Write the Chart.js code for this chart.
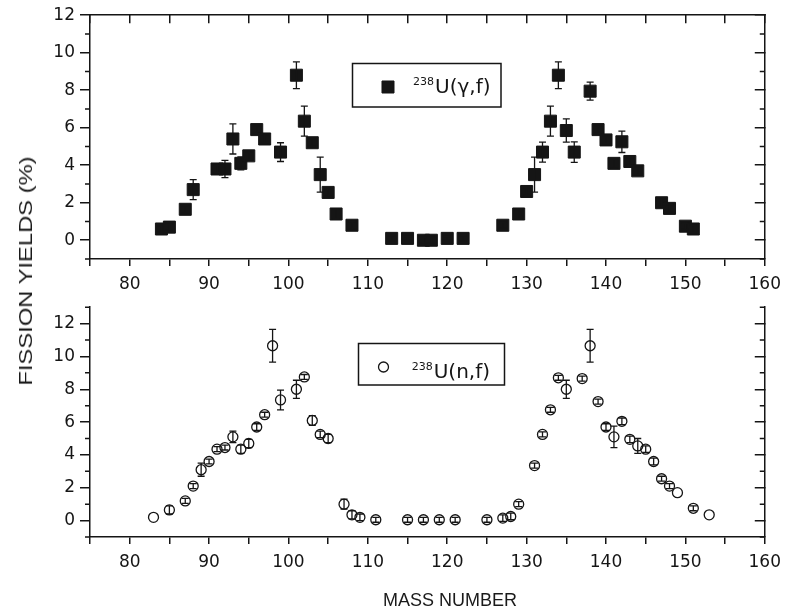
<!DOCTYPE html>
<html><head><meta charset="utf-8">
<script src="https://cdn.jsdelivr.net/npm/chart.js@4.4.1/dist/chart.umd.min.js"></script>
<style>
html,body{margin:0;padding:0;background:#fff;width:789px;height:612px;overflow:hidden;position:relative}
canvas{position:absolute;left:0}
#c1{top:0}
#c2{top:292px}
.t{position:absolute;font-family:"Liberation Sans",Arial,sans-serif;font-size:18px;color:#1a1a1a;white-space:nowrap}
#ytitle{left:26px;top:271px;font-size:19px;transform:translate(-50%,-50%) rotate(-90deg) scaleX(1.25)}
#xtitle{left:450px;top:600px;transform:translate(-50%,-50%)}
</style></head><body>
<canvas id="c1" width="789" height="292"></canvas>
<canvas id="c2" width="789" height="320"></canvas>
<div class="t" id="ytitle">FISSION YIELDS (%)</div>
<div class="t" id="xtitle">MASS NUMBER</div>
<script>
// ---- data ----
const gammaMass  = [84,85,87,88,91,92,93,94,95,96,97,99,101,102,103,104,105,106,108,113,115,117,118,120,122,127,129,130,131,132,133,134,135,136,138,139,140,141,142,143,144,147,148,150,151];
const gammaYield = [0.6,0.7,1.65,2.7,3.8,3.8,5.4,4.1,4.5,5.9,5.4,4.7,8.8,6.35,5.2,3.5,2.55,1.4,0.8,0.1,0.1,0.0,0.0,0.1,0.1,0.8,1.4,2.6,3.5,4.7,6.35,8.8,5.85,4.7,7.95,5.9,5.35,4.1,5.25,4.2,3.7,2.0,1.7,0.75,0.6];
const gammaErr   = [0.15,0.15,0.2,0.53,0.2,0.46,0.8,0.35,0.2,0.2,0.2,0.5,0.71,0.8,0.2,0.93,0.2,0.25,0.2,0.15,0.1,0.15,0.15,0.1,0.15,0.15,0.25,0.2,0.93,0.53,0.8,0.71,0.62,0.55,0.48,0.2,0.2,0.25,0.57,0.2,0.2,0.2,0.2,0.15,0.2];

const neutronMass  = [83,85,87,88,89,90,91,92,93,94,95,96,97,98,99,101,102,103,104,105,107,108,109,111,115,117,119,121,125,127,128,129,131,132,133,134,135,137,138,139,140,141,142,143,144,145,146,147,148,149,151,153];
const neutronYield = [0.2,0.65,1.2,2.1,3.1,3.6,4.35,4.45,5.1,4.35,4.7,5.7,6.45,10.65,7.35,8.0,8.75,6.1,5.25,5.0,1.0,0.35,0.2,0.05,0.05,0.05,0.05,0.05,0.05,0.15,0.25,1.0,3.35,5.25,6.75,8.7,8.0,8.65,10.65,7.25,5.7,5.1,6.05,4.95,4.55,4.35,3.6,2.55,2.1,1.7,0.75,0.35];
const neutronErr   = [0,0.25,0.15,0.15,0.4,0.15,0.15,0.15,0.35,0.25,0.25,0.2,0.15,1.0,0.6,0.55,0.15,0.3,0.2,0.25,0.3,0.25,0.2,0.15,0.15,0.15,0.15,0.15,0.15,0.2,0.2,0.15,0.15,0.15,0.15,0.15,0.55,0.15,1.0,0.15,0.2,0.65,0.2,0.2,0.45,0.2,0.2,0.15,0.15,0,0.15,0];

const xTickValues  = [75,80,85,90,95,100,105,110,115,120,125,130,135,140,145,150,155,160];
const xLabelValues = [80,90,100,110,120,130,140,150,160];
const yTopLabels   = [0,2,4,6,8,10,12];
const yTopMinor    = [-1,1,3,5,7,9,11];
const yBotLabels   = [0,2,4,6,8,10,12];
const yBotMinor    = [-1,1,3,5,7,9,11,13];
const gammaLegend   = {sup:'238', main:'U(\u03B3,f)'};
const neutronLegend = {sup:'238', main:'U(n,f)'};

// ---- styling ----
const INK = '#151515';
const tickFont = {family:'"DejaVu Sans", sans-serif', size:17};

function pts(xs, ys){ return xs.map((x,i)=>({x:x, y:ys[i]})); }

const errorBars = {
  id:'errorBars',
  afterDatasetsDraw(chart){
    const ctx = chart.ctx, x = chart.scales.x, y = chart.scales.y;
    chart.data.datasets.forEach(ds=>{
      if(!ds.errors) return;
      ctx.save(); ctx.strokeStyle = INK; ctx.lineWidth = 1.3;
      ds.data.forEach((p,i)=>{
        const e = ds.errors[i]; if(!e) return;
        const px = x.getPixelForValue(p.x);
        const y1 = y.getPixelForValue(p.y+e), y2 = y.getPixelForValue(p.y-e);
        ctx.beginPath();
        ctx.moveTo(px,y1); ctx.lineTo(px,y2);
        ctx.moveTo(px-3.5,y1); ctx.lineTo(px+3.5,y1);
        ctx.moveTo(px-3.5,y2); ctx.lineTo(px+3.5,y2);
        ctx.stroke();
      });
      ctx.restore();
    });
  }
};

const minorTicks = {
  id:'minorTicks',
  afterDraw(chart, args, opts){
    const ctx = chart.ctx, a = chart.chartArea, y = chart.scales.y;
    ctx.save(); ctx.strokeStyle = INK; ctx.lineWidth = 1.5;
    ctx.beginPath();
    opts.values.forEach(v=>{
      const py = y.getPixelForValue(v);
      ctx.moveTo(a.left-5, py); ctx.lineTo(a.left, py);
      ctx.moveTo(a.right, py); ctx.lineTo(a.right-5, py);
    });
    ctx.stroke(); ctx.restore();
  }
};

const boxLegend = {
  id:'boxLegend',
  afterDraw(chart, args, o){
    const ctx = chart.ctx; ctx.save();
    ctx.strokeStyle = INK; ctx.lineWidth = 1.5;
    ctx.strokeRect(o.box[0], o.box[1], o.box[2], o.box[3]);
    const ds = chart.data.datasets[0];
    ctx.fillStyle = ds.backgroundColor; ctx.strokeStyle = ds.borderColor; ctx.lineWidth = ds.borderWidth;
    Chart.helpers.drawPoint(ctx, {pointStyle:ds.pointStyle, radius:ds.pointRadius, borderWidth:ds.borderWidth, rotation:0}, o.marker[0], o.marker[1]);
    ctx.fillStyle = INK; ctx.textAlign = 'left'; ctx.textBaseline = 'alphabetic';
    ctx.font = '11px "DejaVu Sans", sans-serif';
    ctx.fillText(o.label.sup, o.text[0], o.text[1] - o.supRise);
    const w = ctx.measureText(o.label.sup).width;
    ctx.font = o.mainSize + 'px "DejaVu Sans", sans-serif';
    ctx.fillText(o.label.main, o.text[0] + w + 1, o.text[1]);
    ctx.restore();
  }
};

function xAxis(height, labels){
  return {type:'linear', position:'bottom', min:75, max:160,
    afterBuildTicks:s=>{ s.ticks = xTickValues.map(v=>({value:v})); },
    afterFit:s=>{ s.height = height; },
    ticks:{display:labels, autoSkip:false, maxRotation:0, padding:8, color:INK, font:tickFont,
      callback:v=> xLabelValues.includes(v) ? String(v) : ''},
    grid:{drawOnChartArea:false, tickLength:7, lineWidth:1.5, color:INK},
    border:{color:INK, width:1.5}};
}
function yAxis(min, max, labels){
  return {type:'linear', position:'left', min:min, max:max,
    afterBuildTicks:s=>{ s.ticks = labels.map(v=>({value:v})); },
    afterFit:s=>{ s.width = 90; },
    ticks:{padding:5, color:INK, font:tickFont},
    grid:{drawOnChartArea:false, tickLength:10, lineWidth:1.5, color:INK},
    border:{color:INK, width:1.5}};
}
function yRight(min, max, labels){
  return {type:'linear', position:'right', min:min, max:max,
    afterBuildTicks:s=>{ s.ticks = labels.map(v=>({value:v})); },
    afterFit:s=>{ s.width = 19; },
    ticks:{display:false},
    grid:{drawOnChartArea:false, tickLength:-10, lineWidth:1.5, color:INK},
    border:{color:INK, width:1.5}};
}

// ---- top panel: 238U(gamma,f) ----
new Chart(document.getElementById('c1'), {
  type:'scatter',
  data:{datasets:[{label:'238U(γ,f)', data:pts(gammaMass, gammaYield), errors:gammaErr,
    xAxisID:'x', yAxisID:'y',
    pointStyle:'rect', pointRadius:8.5, borderWidth:1, borderColor:INK, backgroundColor:INK}]},
  options:{
    responsive:false, animation:false, events:[],
    layout:{padding:0},
    plugins:{legend:{display:false}, tooltip:{enabled:false},
      minorTicks:{values:yTopMinor},
      boxLegend:{box:[352.5,63.5,148.5,43.5], marker:[388,87], text:[413,93.3], supRise:8.5, mainSize:20, label:gammaLegend}},
    scales:{
      x: xAxis(33, true),
      xT:{type:'linear', position:'top', min:75, max:160,
        afterBuildTicks:s=>{ s.ticks = xTickValues.map(v=>({value:v})); },
        afterFit:s=>{ s.height = 15; },
        ticks:{display:false},
        grid:{drawOnChartArea:false, tickLength:-8, lineWidth:1.5, color:INK},
        border:{color:INK, width:1.5}},
      y: yAxis(-1, 12, yTopLabels),
      yR: yRight(-1, 12, yTopLabels)
    }
  },
  plugins:[errorBars, minorTicks, boxLegend]
});

// ---- bottom panel: 238U(n,f) ----
new Chart(document.getElementById('c2'), {
  type:'scatter',
  data:{datasets:[{label:'238U(n,f)', data:pts(neutronMass, neutronYield), errors:neutronErr,
    xAxisID:'x', yAxisID:'y',
    pointStyle:'circle', pointRadius:5, borderWidth:1.3, borderColor:INK, backgroundColor:'rgba(0,0,0,0)'}]},
  options:{
    responsive:false, animation:false, events:[],
    layout:{padding:{top:2, left:0, right:0, bottom:0}},
    plugins:{legend:{display:false}, tooltip:{enabled:false},
      minorTicks:{values:yBotMinor},
      boxLegend:{box:[358.5,51.5,146,41.5], marker:[383.5,75], text:[411.7,86], supRise:8.5, mainSize:20, label:neutronLegend}},
    scales:{
      x: xAxis(75, true),
      y: yAxis(-1, 13, yBotLabels),
      yR: yRight(-1, 13, yBotLabels)
    }
  },
  plugins:[errorBars, minorTicks, boxLegend]
});
</script>
</body></html>
